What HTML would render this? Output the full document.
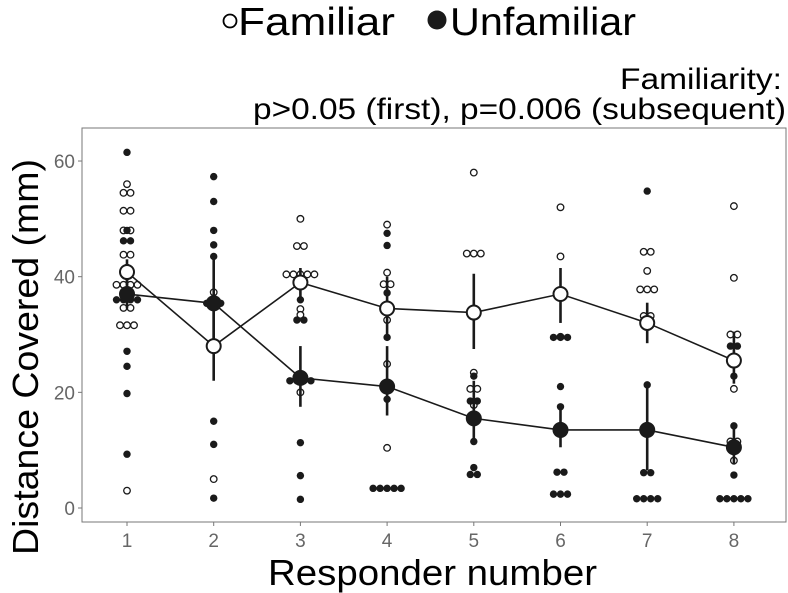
<!DOCTYPE html>
<html><head><meta charset="utf-8"><style>
body{margin:0;background:#fff;}
svg{display:block;font-family:"Liberation Sans",Arial,sans-serif;}
</style></head><body>
<svg id="chart" width="788" height="593" viewBox="0 0 788 593">
<g>
<circle cx="230" cy="21" r="6.5" fill="#fff" stroke="#000" stroke-width="1.8"/>
<text x="238" y="35" font-size="39" textLength="157" lengthAdjust="spacingAndGlyphs">Familiar</text>
<circle cx="437" cy="20" r="9.5" fill="#1a1a1a"/>
<text x="450" y="35" font-size="39" textLength="186" lengthAdjust="spacingAndGlyphs">Unfamiliar</text>
</g>
<text x="620" y="89" font-size="30" textLength="162" lengthAdjust="spacingAndGlyphs">Familiarity:</text>
<text x="253" y="119" font-size="30" textLength="533" lengthAdjust="spacingAndGlyphs">p&gt;0.05 (first), p=0.006 (subsequent)</text>
<rect x="82" y="128" width="704" height="394" fill="#fff" stroke="#777" stroke-width="1"/>
<g id="yaxis"></g>
<g id="xaxis"></g>
<g id="marks"></g>
<text x="268" y="585" font-size="36" textLength="329" lengthAdjust="spacingAndGlyphs">Responder number</text>
<text transform="translate(38,357) rotate(-90)" font-size="36" text-anchor="middle" textLength="396" lengthAdjust="spacingAndGlyphs">Distance Covered (mm)</text>
</svg>
<script>
const responders = [1,2,3,4,5,6,7,8];
const yTicks = [0,20,40,60];
const famPoints = [
 [56,54.5,54.5,51.4,51.4,48,48,43.8,43.8,41,41,38.6,38.6,38.6,38.6,34.6,34.6,31.6,31.6,31.6,3],
 [37.3,5],
 [50,45.3,45.3,40.4,40.4,40.4,40.4,40.4,34.4,33.4,20],
 [49,40.7,38.7,38.7,34.8,32.5,24.9,10.4],
 [58,44,44,44,33.4,23.4,20.6,20.6,17.8],
 [52,43.5,29.6],
 [44.3,44.3,41,37.8,37.8,37.8,33.2,33.2],
 [52.2,39.8,30,30,20.6,11.5,11.5,8.2]
];
const unfPoints = [
 [61.5,48,46.2,46.2,41.6,37,36,36,36,36,27.1,24.5,19.8,9.3],
 [57.3,53,48,45.5,43.5,35.4,35.4,35.4,15,11,1.7],
 [36,32.5,32.5,22,22,22,22,11.3,5.6,1.5],
 [47.5,45.4,37.2,29.5,18.8,3.4,3.4,3.4,3.4,3.4],
 [22.8,18.5,18.5,11.5,7,5.8,5.8],
 [29.5,29.5,29.5,21,17.5,6.2,6.2,2.4,2.4,2.4],
 [54.8,21.3,6.1,6.1,1.6,1.6,1.6,1.6],
 [28,28,22.8,14.2,5.7,1.6,1.6,1.6,1.6,1.6]
];
const famMean = [40.8,28,39,34.5,33.8,37,32,25.5];
const famLo = [38.5,22,36,30,27.5,32,28.5,21.5];
const famHi = [43,34.4,41.5,40,40.5,41.5,35.5,30.5];
const unfMean = [37,35.4,22.5,21,15.5,13.5,13.5,10.5];
const unfLo = [34.5,27.7,17.5,16,12,10.5,6.5,7.5];
const unfHi = [41,43,28,28,22,17,21,14];

const NS="http://www.w3.org/2000/svg";
const x = r => 127 + (r-1)*86.7;
const y = v => 508 - v*5.783;
function mk(tag, attrs, parent){const e=document.createElementNS(NS,tag);for(const k in attrs)e.setAttribute(k,attrs[k]);parent.appendChild(e);return e;}
const yax=document.getElementById('yaxis'), xax=document.getElementById('xaxis'), marks=document.getElementById('marks');
yTicks.forEach(t=>{
 const l=mk('line',{x1:78,x2:82,y1:y(t),y2:y(t),stroke:'#777'},yax);
 
 
 const tx=mk('text',{x:75,y:y(t)+7,'font-size':19,fill:'#666','text-anchor':'end'},yax);
 tx.textContent=t;
 
 
});
responders.forEach(r=>{
 const l=mk('line',{x1:x(r),x2:x(r),y1:522,y2:526,stroke:'#777'},xax);
 
 
 const tx=mk('text',{x:x(r),y:547,'font-size':19,fill:'#666','text-anchor':'middle'},xax);
 tx.textContent=r;
 
 
});
function dots(arr, filled){
 arr.forEach((vals,i)=>{
  const counts={};
  vals.forEach(v=>counts[v]=(counts[v]||0)+1);
  const seen={};
  vals.forEach(v=>{
   const n=counts[v]; const k=seen[v]||0; seen[v]=k+1;
   const cx=x(responders[i])+(k-(n-1)/2)*7;
   const c=mk('circle',{cx:cx,cy:y(v),r:filled?3.7:3.3,fill:filled?'#1a1a1a':'#fff',stroke:'#1a1a1a','stroke-width':filled?0:1.3},marks);
   
   
  });
 });
}
dots(famPoints,false);
dots(unfPoints,true);
function series(mean,lo,hi,filled,name){
 const pts=mean.map((m,i)=>x(responders[i])+','+y(m)).join(' ');
 const pl=mk('polyline',{points:pts,fill:'none',stroke:'#1a1a1a','stroke-width':1.6},marks);
 
 
 mean.forEach((m,i)=>{
  const e=mk('line',{x1:x(responders[i]),x2:x(responders[i]),y1:y(lo[i]),y2:y(hi[i]),stroke:'#1a1a1a','stroke-width':2.6},marks);
  
  
 });
 mean.forEach((m,i)=>{
  const c=mk('circle',{cx:x(responders[i]),cy:y(m),r:filled?8:7,fill:filled?'#1a1a1a':'#fff',stroke:'#1a1a1a','stroke-width':filled?0:2},marks);
  
  
 });
}
series(unfMean,unfLo,unfHi,true,'unfamiliar');
series(famMean,famLo,famHi,false,'familiar');
</script>
</body></html>
